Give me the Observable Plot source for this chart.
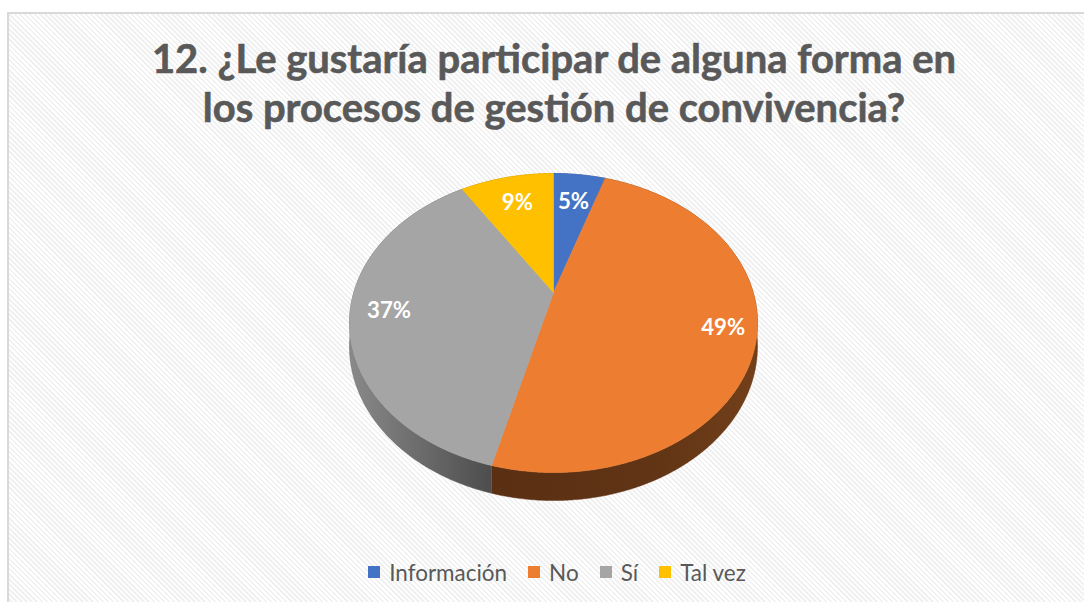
<!DOCTYPE html>
<html>
<head>
<meta charset="utf-8">
<script src="https://cdn.jsdelivr.net/npm/d3@7"></script>
<script src="https://cdn.jsdelivr.net/npm/@observablehq/plot@0.6"></script>
<style>
  html, body { margin: 0; padding: 0; background: #ffffff; width: 1084px; height: 602px; overflow: hidden; }
  #frame {
    position: absolute; left: 7px; top: 12px; width: 1090px; height: 640px;
    border: 2px solid #d9d9d9;
    background: repeating-linear-gradient(45deg, #ffffff 0px, #ffffff 1.8px, #f1f1f1 1.8px, #f1f1f1 3.6px);
  }
  #title { position: relative; width: 1090px; height: 146px; color: #595959; font-family: Lato, "Open Sans", sans-serif; font-weight: bold; }
  #title div { position: absolute; left: 0; width: 100%; text-align: center; white-space: nowrap; }
  #chart svg { display: block; }
  #legend { position: absolute; }
  #legend > div { font-family: Lato, "Open Sans", sans-serif !important; color: #595959 !important; margin: 0 !important; min-height: 0 !important; }
  #legend span { margin-right: 21px !important; }
  #legend span:last-child { margin-right: 0 !important; }
  #legend svg { margin-right: 9px !important; }
</style>
</head>
<body>
<div id="frame">
  <div id="title"></div>
  <div id="chart"></div>
  <div id="legend"></div>
</div>
<script>
// ---- data ----
const categories = ["Información", "No", "Sí", "Tal vez"];
const values = [5, 49, 37, 9];
const labels = ["5%", "49%", "37%", "9%"];
const colors = ["#4472C4", "#ED7D31", "#A5A5A5", "#FFC000"];
const titleLines = ["12. ¿Le gustaría participar de alguna forma en", "los procesos de gestión de convivencia?"];

// ---- layout ----
const FONT = "Lato";
const W = 1090, H = 370;
const CX = 544, CY = 132;          // pie apex in svg coords
const A = 199.7, B = 143.3, K = 0.204, DEPTH = 22.3;
const FRAME_X = 9, FRAME_Y = 14;   // page offset of frame content

const ctx = document.createElement("canvas").getContext("2d");
function fitSize(text, weight, target) {
  ctx.font = `${weight} 100px ${FONT}`;
  return 100 * target / ctx.measureText(text).width;
}
function metrics(size, weight) {
  ctx.font = `${weight} ${size}px ${FONT}`;
  const m = ctx.measureText("Hg");
  return { asc: m.fontBoundingBoxAscent, desc: m.fontBoundingBoxDescent };
}

// ---- title ----
const titleSize = fitSize(titleLines[0], "bold", 805);
const tm = metrics(titleSize, "bold");
const baselines = [73, 122];
const titleEl = document.getElementById("title");
titleLines.forEach((t, i) => {
  const d = document.createElement("div");
  d.textContent = t;
  d.style.fontSize = titleSize + "px";
  d.style.lineHeight = (tm.asc + tm.desc) + "px";
  d.style.top = (baselines[i] - FRAME_Y - tm.asc) + "px";
  d.style.webkitTextStroke = "0.6px #595959";
  titleEl.appendChild(d);
});

// ---- pie geometry ----
function proj(r, ang, h) {
  const X = r * Math.sin(ang), Z = -r * Math.cos(ang);
  const w = 1 - K * Z;
  return [CX + A * X / w, CY + (B * Z + DEPTH * h) / w];
}
const data = categories.map((c, i) => ({ cat: c, value: values[i], label: labels[i] }));
const arcs = d3.pie().sort(null).value(d => d.value)(data);
const total = d3.sum(values);
const step = Math.PI / 360;

function rimAngles(a0, a1) {
  const n = Math.max(2, Math.ceil((a1 - a0) / step));
  return d3.range(n + 1).map(j => a0 + (a1 - a0) * j / n);
}

const topRows = [], sideRows = [], labelRows = [];
arcs.forEach(a => {
  const cat = a.data.cat;
  const angs = rimAngles(a.startAngle, a.endAngle);
  const c = proj(0, 0, 0);
  topRows.push({ cat, x: c[0], y: c[1] });
  angs.forEach(t => { const p = proj(1, t, 0); topRows.push({ cat, x: p[0], y: p[1] }); });
  topRows.push({ cat, x: c[0], y: c[1] });

  const side = [];
  angs.forEach(t => { const p = proj(1, t, 0); side.push({ cat, x: p[0], y: p[1] }); });
  angs.slice().reverse().forEach(t => { const p = proj(1, t, 1); side.push({ cat, x: p[0], y: p[1] }); });
  side.push(side[0]);
  sideRows.push(...side);

  const share = a.data.value / total;
  const f = 0.72 + 0.25 * share;
  const mid = (a.startAngle + a.endAngle) / 2;
  const lp = proj(f, mid, 0);
  labelRows.push({ cat, label: a.data.label, x: lp[0], y: lp[1] });
});

const sideFill = {
  "Información": "#2c4a80",
  "No": "url(#gSideOrange)",
  "Sí": "url(#gSideGrey)",
  "Tal vez": "#a67c00"
};
const sideStroke = { "Información": "#2c4a80", "No": "#5e3215", "Sí": "#5e5e5e", "Tal vez": "#a67c00" };

const labelSize = fitSize("49%", "bold", 44);

const svg = Plot.plot({
  width: W, height: H, margin: 0,
  style: { background: "transparent", overflow: "visible" },
  x: { domain: [0, W], range: [0, W], axis: null },
  y: { domain: [0, H], range: [0, H], axis: null },
  color: { domain: categories, range: colors },
  marks: [
    ...categories.map(c => Plot.line(sideRows.filter(d => d.cat === c), {
      x: "x", y: "y", fill: sideFill[c], stroke: sideStroke[c], strokeWidth: 0.5, curve: "linear"
    })),
    Plot.line(topRows, { x: "x", y: "y", z: "cat", fill: "cat", stroke: "cat", strokeWidth: 0.6, curve: "linear" }),
    Plot.text(labelRows, {
      x: "x", y: "y", text: "label", fill: "white", fontWeight: "bold",
      fontSize: labelSize, fontFamily: FONT, textAnchor: "middle"
    })
  ]
});

// gradients for the pie's side walls
const defs = d3.select(svg).insert("defs", ":first-child");
const gO = defs.append("linearGradient").attr("id", "gSideOrange").attr("gradientUnits", "userSpaceOnUse")
  .attr("x1", CX - 70).attr("x2", CX + 210).attr("y1", 0).attr("y2", 0);
gO.append("stop").attr("offset", "0").attr("stop-color", "#5a2f12");
gO.append("stop").attr("offset", "0.6").attr("stop-color", "#603415");
gO.append("stop").attr("offset", "1").attr("stop-color", "#74401a");
const gG = defs.append("linearGradient").attr("id", "gSideGrey").attr("gradientUnits", "userSpaceOnUse")
  .attr("x1", CX - 205).attr("x2", CX - 55).attr("y1", 0).attr("y2", 0);
gG.append("stop").attr("offset", "0").attr("stop-color", "#8a8a8a");
gG.append("stop").attr("offset", "1").attr("stop-color", "#4a4a4a");

document.getElementById("chart").appendChild(svg);

// ---- legend ----
const legendSize = fitSize("Información", "normal", 118);
const legend = Plot.legend({
  color: { domain: categories, range: colors },
  swatchSize: 12,
  style: { fontSize: legendSize + "px", fontFamily: FONT, color: "#595959" }
});
const legEl = document.getElementById("legend");
legEl.appendChild(legend);
legend.style.fontSize = legendSize + "px";
const r = legEl.getBoundingClientRect();
legEl.style.left = (557 - FRAME_X - r.width / 2) + "px";
legEl.style.top = (572 - FRAME_Y - r.height / 2) + "px";
</script>
</body>
</html>
